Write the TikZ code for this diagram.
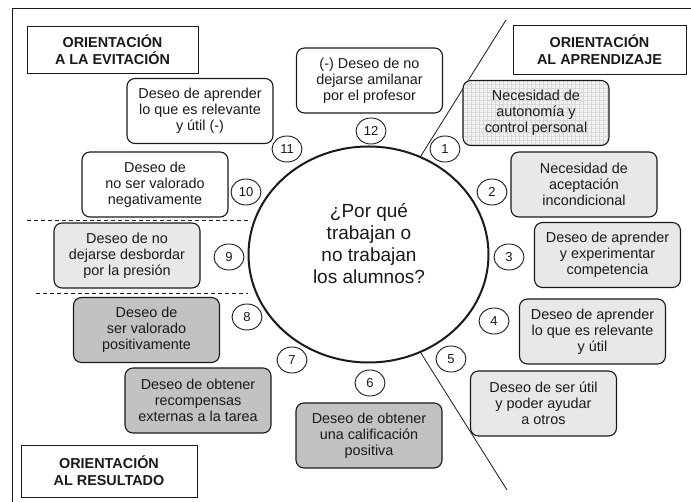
\documentclass[tikz,border=0pt]{standalone}
\usepackage{fontspec}
\setmainfont{Liberation Sans}
\usetikzlibrary{shapes.geometric}
\definecolor{lg}{HTML}{E8E8E8}
\definecolor{dg}{HTML}{C2C2C2}
\definecolor{gridbg}{HTML}{F2F2F2}
\definecolor{gridln}{HTML}{D8D8D8}
\definecolor{ink}{HTML}{1A1A1A}
\begin{document}
\begin{tikzpicture}[x=1pt,y=-1pt,
  every node/.style={text=ink},
  mbox/.style={draw=ink, line width=1.1pt, rounded corners=8pt, align=center,
    minimum width=146pt, minimum height=65pt, inner sep=0pt,
    font=\fontsize{14.4}{16}\selectfont},
  wbox/.style={mbox, fill=white},
  lbox/.style={mbox, fill=lg},
  dbox/.style={mbox, fill=dg},
  head/.style={draw=ink, line width=0.8pt, align=center, inner sep=0pt,
    font=\fontsize{14.4}{17}\selectfont\bfseries},
  num/.style={draw=ink, line width=0.9pt, ellipse, minimum width=30pt, minimum height=26pt,
    inner sep=0pt, font=\fontsize{13}{13}\selectfont},
  sep/.style={draw=ink, line width=0.8pt},
  dsep/.style={draw=ink, line width=0.8pt, dash pattern=on 4pt off 3pt}]
\useasboundingbox (0,0) rectangle (691,502);
\fill[white] (0,0) rectangle (691,502);
% outer frame
\draw[ink, line width=0.9pt] (12,510) -- (12,8) -- (700,8);

% diagonal and dashed separators
\coordinate (dtop) at (506,20);
\coordinate (dbot) at (507,490);
\coordinate (dl1) at (27,220);
\coordinate (dl2) at (36,293);

% central ellipse
\node[draw=ink, line width=2pt, ellipse, minimum width=240pt, minimum height=216pt, inner sep=0pt] (c) at (368.5,254.5) {};
\node[align=center, font=\fontsize{19}{22}\selectfont] (ct) at (369,244) {¿Por qué\\trabajan o\\no trabajan\\los alumnos?};

\draw[sep] (dtop) -- (c.62);
\draw[sep] (c.-62) -- (dbot);
\draw[dsep] (dl1) -- (c.west |- dl1);
\draw[dsep] (dl2) -- (c.west |- dl2);

% headings
\node[head, minimum width=171pt, minimum height=47pt] (hev) at (112.5,49.5) {ORIENTACIÓN\\A LA EVITACIÓN};
\node[head, minimum width=173pt, minimum height=49pt] (hap) at (599.5,49.5) {ORIENTACIÓN\\AL APRENDIZAJE};
\node[head, minimum width=176pt, minimum height=52pt] (hre) at (109,471) {ORIENTACIÓN\\AL RESULTADO};

% boxes
\node[wbox] (b12) at (369.5,80.5) {(-) Deseo de no\\dejarse amilanar\\por el profesor};
\node[wbox] (b11) at (200,111) {Deseo de aprender\\lo que es relevante\\y útil (-)};
\begin{scope}
\clip[rounded corners=8pt] (463,80) rectangle (609,146);
\fill[gridbg] (463,80) rectangle (609,146);
\foreach \gx in {463,467,...,611} {\draw[gridln, line width=0.35pt] (\gx,80) -- (\gx,146);}
\foreach \gy in {80,84,...,148} {\draw[gridln, line width=0.35pt] (463,\gy) -- (609,\gy);}
\end{scope}
\node[mbox] (b1) at (536,113) {Necesidad de\\autonomía y\\control personal};
\node[wbox] (b10) at (155,184.5) {Deseo de\\no ser valorado\\negativamente};
\node[lbox] (b2) at (584,184.5) {Necesidad de\\aceptación\\incondicional};
\node[lbox] (b9) at (127,255.5) {Deseo de no\\dejarse desbordar\\por la presión};
\node[lbox] (b3) at (607.5,255) {Deseo de aprender\\y experimentar\\competencia};
\node[dbox] (b8) at (146.5,330) {Deseo de\\ser valorado\\positivamente};
\node[lbox] (b4) at (592.5,331.5) {Deseo de aprender\\lo que es relevante\\y útil};
\node[dbox] (b7) at (198,400.5) {Deseo de obtener\\recompensas\\externas a la tarea};
\node[lbox] (b5) at (543.5,403.5) {Deseo de ser útil\\y poder ayudar\\a otros};
\node[dbox] (b6) at (369,435.5) {Deseo de obtener\\una calificación\\positiva};

% numbers
\node[num] (n12) at (371,131) {12};
\node[num] (n11) at (287,149) {11};
\node[num] (n1) at (445,149) {1};
\node[num] (n10) at (246,192) {10};
\node[num] (n2) at (492,192) {2};
\node[num] (n9) at (229,257) {9};
\node[num] (n3) at (509,257) {3};
\node[num] (n8) at (247,317) {8};
\node[num] (n4) at (494,321) {4};
\node[num] (n7) at (292,360) {7};
\node[num] (n5) at (451,359) {5};
\node[num] (n6) at (370,383) {6};
\end{tikzpicture}
\end{document}
